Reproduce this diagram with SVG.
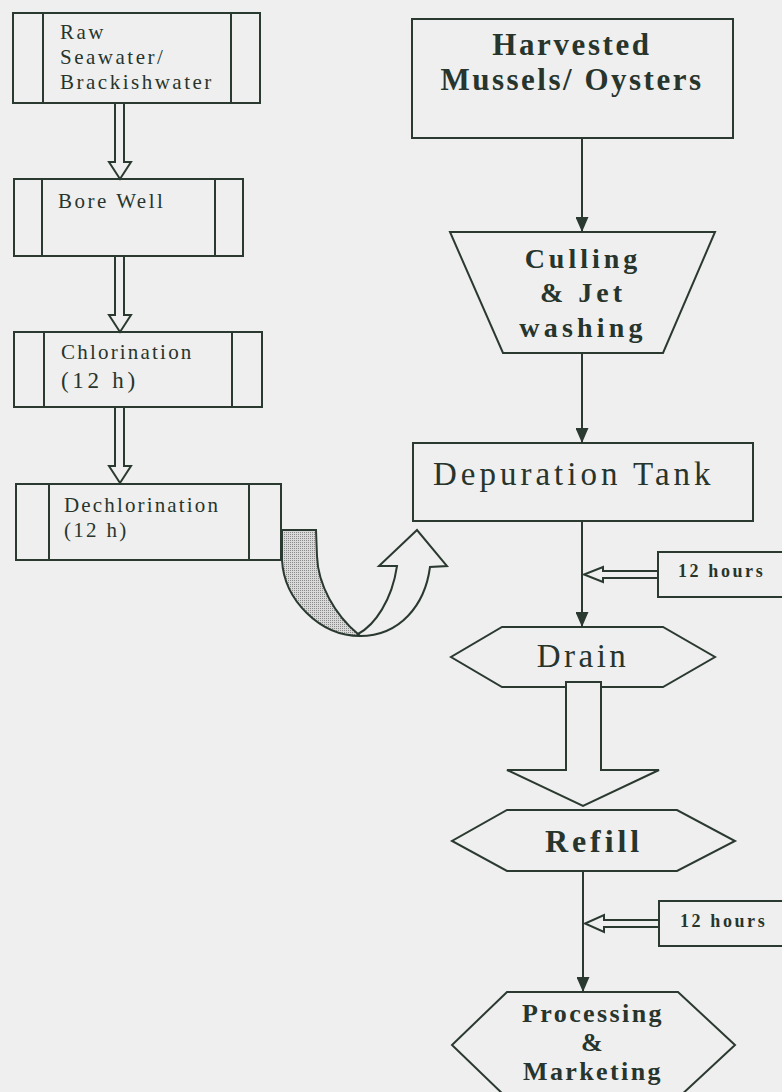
<svg xmlns="http://www.w3.org/2000/svg" width="782" height="1092" viewBox="0 0 782 1092">
<defs>
<style>
.bg{fill:#efeff0}
.s{fill:none;stroke:#2b3a30;stroke-width:2}
.sf{fill:#efeff0;stroke:#2b3a30;stroke-width:2;stroke-linejoin:miter}
.t{font-family:"Liberation Serif","Times New Roman",serif;fill:#27352c}
.l{font-size:21px;letter-spacing:2.5px}
.b{font-weight:bold}
.conn{stroke:#2b3a30;stroke-width:2;fill:none}
</style>
<pattern id="dots" width="2" height="2" patternUnits="userSpaceOnUse">
<rect width="2" height="2" fill="#d9d9d9"/>
<rect width="1" height="1" fill="#8a8a8a"/>
</pattern>
<marker id="ah" markerWidth="15" markerHeight="13" refX="15" refY="6.5" orient="auto" markerUnits="userSpaceOnUse">
<path d="M0,0 L15,6.5 L0,13 Z" fill="#2b3a30"/>
</marker>
</defs>
<rect class="bg" x="0" y="0" width="782" height="1092"/>

<g id="raw-water">
<rect class="s" x="13" y="13" width="247" height="90"/>
<line class="s" x1="43" y1="13" x2="43" y2="103"/>
<line class="s" x1="231" y1="13" x2="231" y2="103"/>
<text class="t l" x="60" y="39">Raw</text>
<text class="t l" x="60" y="64">Seawater/</text>
<text class="t l" x="60" y="89">Brackishwater</text>
</g>

<g id="bore-well">
<rect class="s" x="14" y="179" width="229" height="77"/>
<line class="s" x1="42" y1="179" x2="42" y2="256"/>
<line class="s" x1="215" y1="179" x2="215" y2="256"/>
<text class="t l" x="58" y="208">Bore Well</text>
</g>

<g id="chlorination">
<rect class="s" x="14" y="332" width="248" height="75"/>
<line class="s" x1="44" y1="332" x2="44" y2="407"/>
<line class="s" x1="232" y1="332" x2="232" y2="407"/>
<text class="t" x="61" y="359" style="font-size:21px;letter-spacing:2.2px">Chlorination</text>
<text class="t" x="61" y="388" style="font-size:23px;letter-spacing:3.7px">(12 h)</text>
</g>

<g id="dechlorination">
<rect class="s" x="16" y="484" width="265" height="76"/>
<line class="s" x1="49" y1="484" x2="49" y2="560"/>
<line class="s" x1="249" y1="484" x2="249" y2="560"/>
<text class="t" x="64" y="512" style="font-size:21px;letter-spacing:2.15px">Dechlorination</text>
<text class="t" x="64" y="537" style="font-size:21px;letter-spacing:2.3px">(12 h)</text>
</g>

<g id="harvested">
<rect class="s" x="412" y="19" width="321" height="119"/>
<text class="t b" x="572" y="55" text-anchor="middle" style="font-size:31px;letter-spacing:2.6px">Harvested</text>
<text class="t b" x="572" y="90" text-anchor="middle" style="font-size:31px;letter-spacing:2.5px">Mussels/ Oysters</text>
</g>

<g id="culling">
<polygon class="s" points="450,232 715,232 663,353 503,353"/>
<text class="t b" x="583" y="268" text-anchor="middle" style="font-size:28px;letter-spacing:4px">Culling</text>
<text class="t b" x="583" y="302" text-anchor="middle" style="font-size:28px;letter-spacing:4px">&amp; Jet</text>
<text class="t b" x="583" y="337" text-anchor="middle" style="font-size:28px;letter-spacing:4.2px">washing</text>
</g>

<g id="depuration-tank">
<rect class="s" x="413" y="443" width="340" height="78"/>
<text class="t" x="433" y="485" style="font-size:33px;letter-spacing:4px">Depuration Tank</text>
</g>

<g id="timer-1">
<rect class="s" x="658" y="552" width="140" height="45"/>
<text class="t b" x="678" y="577" style="font-size:18px;letter-spacing:2.6px">12 hours</text>
</g>

<g id="drain">
<polygon class="s" points="502,627 663,627 715,657 663,687 502,687 451,657"/>
<text class="t" x="583" y="667" text-anchor="middle" style="font-size:33px;letter-spacing:3.5px">Drain</text>
</g>

<g id="refill">
<polygon class="s" points="507,810 677,810 735,841 677,871 507,871 452,841"/>
<text class="t b" x="594" y="852" text-anchor="middle" style="font-size:32px;letter-spacing:3.9px">Refill</text>
</g>

<g id="timer-2">
<rect class="s" x="659" y="901" width="140" height="45"/>
<text class="t b" x="680" y="927" style="font-size:18px;letter-spacing:2.6px">12 hours</text>
</g>

<g id="processing">
<polygon class="s" points="507,992 678,992 735,1045 678,1098 507,1098 452,1045"/>
<text class="t b" x="593" y="1022" text-anchor="middle" style="font-size:26px;letter-spacing:2.4px">Processing</text>
<text class="t b" x="593" y="1051" text-anchor="middle" style="font-size:26px;letter-spacing:2.4px">&amp;</text>
<text class="t b" x="593" y="1080" text-anchor="middle" style="font-size:26px;letter-spacing:2.4px">Marketing</text>
</g>

<g id="connectors">
<polygon class="sf" points="115,103 115,162 109,162 120,179 131,162 124,162 124,103"/>
<polygon class="sf" points="115,256 115,315 109,315 120,332 131,315 124,315 124,256"/>
<polygon class="sf" points="115,407 115,466 109,466 120,483 131,466 124,466 124,407"/>
<line class="conn" x1="582" y1="138" x2="582" y2="232" marker-end="url(#ah)"/>
<line class="conn" x1="582" y1="353" x2="582" y2="443" marker-end="url(#ah)"/>
<line class="conn" x1="582" y1="521" x2="582" y2="627" marker-end="url(#ah)"/>
<line class="conn" x1="583" y1="871" x2="583" y2="992" marker-end="url(#ah)"/>
<polygon class="sf" points="658,571 603,571 603,567 584,574.5 603,582 603,578 658,578"/>
<polygon class="sf" points="659,920 604,920 604,915 585,923.5 604,932 604,927 659,927"/>
<polygon class="sf" points="566,682 566,770 507,770 583,806 659,770 601,770 601,682"/>
<path d="M282,530 L316,530 L317,556 C318,585 335,615 358,634 L360,636 C320,636 284,600 282,560 Z" fill="url(#dots)" stroke="#2b3a30" stroke-width="2"/>
<path class="sf" d="M360,636 C400,636 425,605 430,567 L447,566 L417,530 L379,566 L397,566 C392,600 375,625 358,634 Z"/>
</g>
</svg>
